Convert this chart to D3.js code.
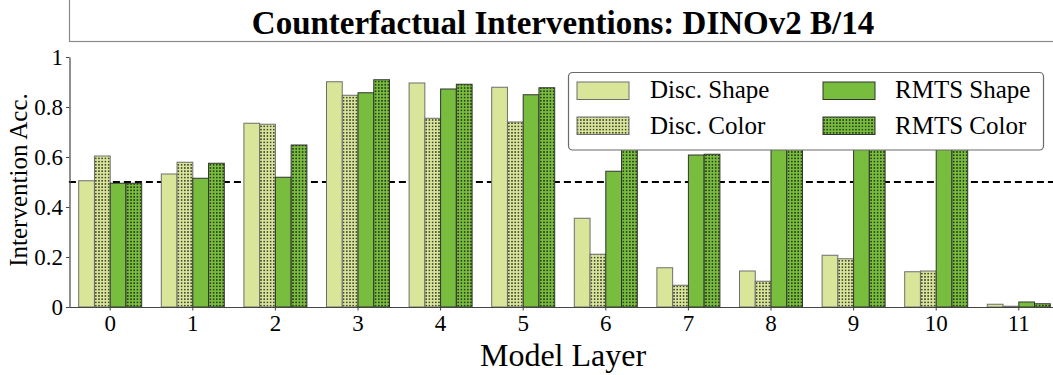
<!DOCTYPE html>
<html>
<head>
<meta charset="utf-8">
<script src="https://cdn.jsdelivr.net/npm/d3@7"></script>
<style>
  html, body { margin: 0; padding: 0; background: #fff; }
  svg { display: block; font-family: "Liberation Serif", "DejaVu Serif", serif; }
</style>
</head>
<body>
<svg id="chart" width="1053" height="375"></svg>
<script>
// Layers on the x axis
const layers = [0, 1, 2, 3, 4, 5, 6, 7, 8, 9, 10, 11];

// Intervention accuracy per layer for each task / property
const discShape = [0.505, 0.532, 0.735, 0.901, 0.896, 0.879, 0.355, 0.157, 0.144, 0.207, 0.141, 0.011];
const discColor = [0.604, 0.579, 0.731, 0.847, 0.755, 0.740, 0.211, 0.087, 0.103, 0.193, 0.144, 0.003];
const rmtsShape = [0.495, 0.515, 0.519, 0.857, 0.872, 0.849, 0.543, 0.608, 0.860, 0.880, 0.870, 0.020];
const rmtsColor = [0.495, 0.575, 0.648, 0.909, 0.891, 0.877, 0.700, 0.611, 0.900, 0.910, 0.905, 0.013];

const seriesNames = ["Disc. Shape", "Disc. Color", "RMTS Shape", "RMTS Color"];
const yTicks = [0, 0.2, 0.4, 0.6, 0.8, 1];
const yTickLabels = ["0", "0.2", "0.4", "0.6", "0.8", "1"];
const chance = 0.5;

const series = [
  { name: seriesNames[0], values: discShape, fill: "#d9e69a", edge: "#6e6e6e", dotted: false },
  { name: seriesNames[1], values: discColor, fill: "#d9e69a", edge: "#6e6e6e", dotted: true },
  { name: seriesNames[2], values: rmtsShape, fill: "#78bd3d", edge: "#333", dotted: false },
  { name: seriesNames[3], values: rmtsColor, fill: "#78bd3d", edge: "#333", dotted: true }
];

const svg = d3.select("#chart");

// Dot hatch patterns for the "Color" bars
const defs = svg.append("defs");
function dotPattern(id, bg) {
  const p = defs.append("pattern")
    .attr("id", id).attr("patternUnits", "userSpaceOnUse")
    .attr("width", 3.2).attr("height", 3.2);
  p.append("rect").attr("width", 3.2).attr("height", 3.2).attr("fill", bg);
  p.append("circle").attr("cx", 1.6).attr("cy", 1.6).attr("r", 0.8).attr("fill", "#111");
}
dotPattern("dots-light", "#d9e69a");
dotPattern("dots-dark", "#78bd3d");
const fillOf = s => s.dotted ? (s.fill === "#d9e69a" ? "url(#dots-light)" : "url(#dots-dark)") : s.fill;

// Scales
const step = 82.6;
const x0 = 68.9;
const x = d3.scaleBand().domain(layers).range([x0, x0 + step * layers.length]).padding(0);
const groupW = 63;
const xSub = d3.scaleBand().domain(seriesNames).range([-groupW / 2, groupW / 2]).padding(0);
const y = d3.scaleLinear().domain([0, 1]).range([307, 57]);

// Title box and title
svg.append("rect")
  .attr("x", 69.5).attr("y", -10).attr("width", 1100).attr("height", 51.5)
  .attr("fill", "none").attr("stroke", "#8a8a8a").attr("stroke-width", 1.2);
svg.append("text")
  .attr("x", 563).attr("y", 34)
  .attr("text-anchor", "middle")
  .attr("font-size", 33).attr("font-weight", "bold")
  .text("Counterfactual Interventions: DINOv2 B/14");

// Chance line (behind the bars)
svg.append("line")
  .attr("x1", x0).attr("x2", x0 + step * layers.length)
  .attr("y1", y(chance)).attr("y2", y(chance))
  .attr("stroke", "#000").attr("stroke-width", 1.8)
  .attr("stroke-dasharray", "7,4");

// Bars
const groups = svg.append("g").selectAll("g")
  .data(layers)
  .join("g")
  .attr("transform", d => `translate(${x(d) + x.bandwidth() / 2},0)`);

groups.selectAll("rect")
  .data(l => series.map(s => ({ s, v: s.values[l] })))
  .join("rect")
  .attr("x", d => xSub(d.s.name))
  .attr("width", xSub.bandwidth())
  .attr("y", d => y(d.v))
  .attr("height", d => y(0) - y(d.v))
  .attr("fill", d => fillOf(d.s))
  .attr("stroke", d => d.s.edge)
  .attr("stroke-width", 1);

// Axes
const yAxis = d3.axisLeft(y)
  .tickValues(yTicks)
  .tickFormat((d, i) => yTickLabels[i])
  .tickSizeOuter(0).tickSizeInner(3.5).tickPadding(3);
const gy = svg.append("g").attr("transform", `translate(${x0 + 0.6},0)`).call(yAxis);

const xAxis = d3.axisBottom(x).tickSizeOuter(0).tickSizeInner(3.5).tickPadding(4);
const gx = svg.append("g").attr("transform", `translate(0,${y(0)})`).call(xAxis);

[gx, gy].forEach(g => {
  g.select(".domain").attr("stroke", "#444").attr("stroke-width", 1.2);
  g.selectAll(".tick line").attr("stroke", "#444").attr("stroke-width", 1);
  g.selectAll(".tick text")
    .attr("font-family", "Liberation Serif, serif")
    .attr("font-size", 23).attr("fill", "#000");
});

// Axis titles
svg.append("text")
  .attr("x", 563).attr("y", 366)
  .attr("text-anchor", "middle")
  .attr("font-size", 32)
  .text("Model Layer");
svg.append("text")
  .attr("transform", `translate(27,${y(0.5) - 2}) rotate(-90)`)
  .attr("text-anchor", "middle")
  .attr("font-size", 25)
  .text("Intervention Acc.");

// Legend
const legend = svg.append("g");
legend.append("rect")
  .attr("x", 568.5).attr("y", 72.5).attr("width", 475).attr("height", 77.5)
  .attr("rx", 4).attr("ry", 4)
  .attr("fill", "#fff").attr("stroke", "#6a6a6a").attr("stroke-width", 1.2);

const legendPos = [
  { px: 577, py: 82, tx: 650, ty: 98 },
  { px: 577, py: 117, tx: 650, ty: 134 },
  { px: 823, py: 82, tx: 895, ty: 98 },
  { px: 823, py: 117, tx: 895, ty: 134 }
];
series.forEach((s, i) => {
  const p = legendPos[i];
  legend.append("rect")
    .attr("x", p.px).attr("y", p.py).attr("width", 52).attr("height", 17.5)
    .attr("fill", fillOf(s)).attr("stroke", s.edge).attr("stroke-width", 1);
  legend.append("text")
    .attr("x", p.tx).attr("y", p.ty)
    .attr("font-size", 25)
    .text(s.name);
});
</script>
</body>
</html>
